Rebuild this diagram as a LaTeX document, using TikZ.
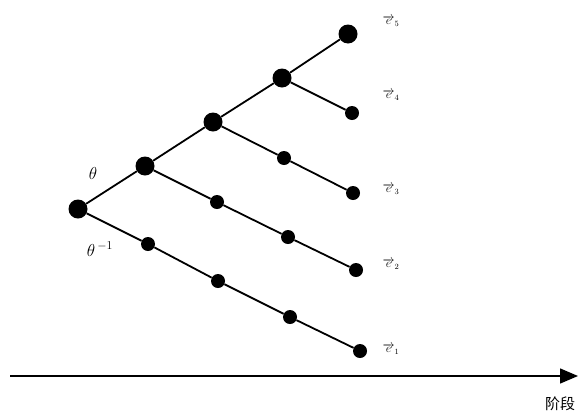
\documentclass[tikz,border=0pt]{standalone}
\usepackage{fontspec}
\usepackage{tikz}
\usetikzlibrary{positioning, arrows.meta}
\newfontfamily\cjk{Noto Sans CJK SC}

\begin{document}
\begin{tikzpicture}[x=1pt, y=-1pt, hub/.style={circle, fill=black, inner sep=0pt, minimum size=19pt},sml/.style={circle, fill=black, inner sep=0pt, minimum size=14pt},lnk/.style={line width=1.8pt},lbl/.style={font=\large}]
\useasboundingbox (0,0) rectangle (580,418);
\node[hub] (r0) at (78,209) {};
\node[hub] (u1) at (145,166) {};
\node[hub] (u2) at (213,122) {};
\node[hub] (u3) at (282,78) {};
\node[hub] (u4) at (348,34) {};
\node[sml] (a1) at (148,244) {};
\node[sml] (a2) at (218,281) {};
\node[sml] (a3) at (290,317) {};
\node[sml] (a4) at (360,351) {};
\node[sml] (b1) at (217,202) {};
\node[sml] (b2) at (288,237) {};
\node[sml] (b3) at (356,270) {};
\node[sml] (c1) at (284,158) {};
\node[sml] (c2) at (353,193) {};
\node[sml] (d1) at (352,113) {};
\draw[lnk] (r0)--(u1)--(u2)--(u3)--(u4);
\draw[lnk] (r0)--(a1)--(a2)--(a3)--(a4);
\draw[lnk] (u1)--(b1)--(b2)--(b3);
\draw[lnk] (u2)--(c1)--(c2);
\draw[lnk] (u3)--(d1);
\node[lbl, font=\LARGE] (th) at (93,173) {$\theta$};
\node[lbl, font=\LARGE] (thi) at (100,249) {$\theta^{\,-1}$};
\node[lbl] (e5) at (391,21) {$\overrightarrow{e}_5$};
\node[lbl] (e4) at (391,95) {$\overrightarrow{e}_4$};
\node[lbl] (e3) at (391,189) {$\overrightarrow{e}_3$};
\node[lbl] (e2) at (391,264) {$\overrightarrow{e}_2$};
\node[lbl] (e1) at (391,349) {$\overrightarrow{e}_1$};
\coordinate (ax0) at (10,376);
\coordinate (ax1) at (578,376);
\draw[line width=1.4pt, -{Triangle[length=18pt, width=15pt]}] (ax0)--(ax1);
\node[font=\cjk\fontsize{15pt}{18pt}\selectfont] (stage) at (560,404) {阶段};
\end{tikzpicture}
\end{document}
